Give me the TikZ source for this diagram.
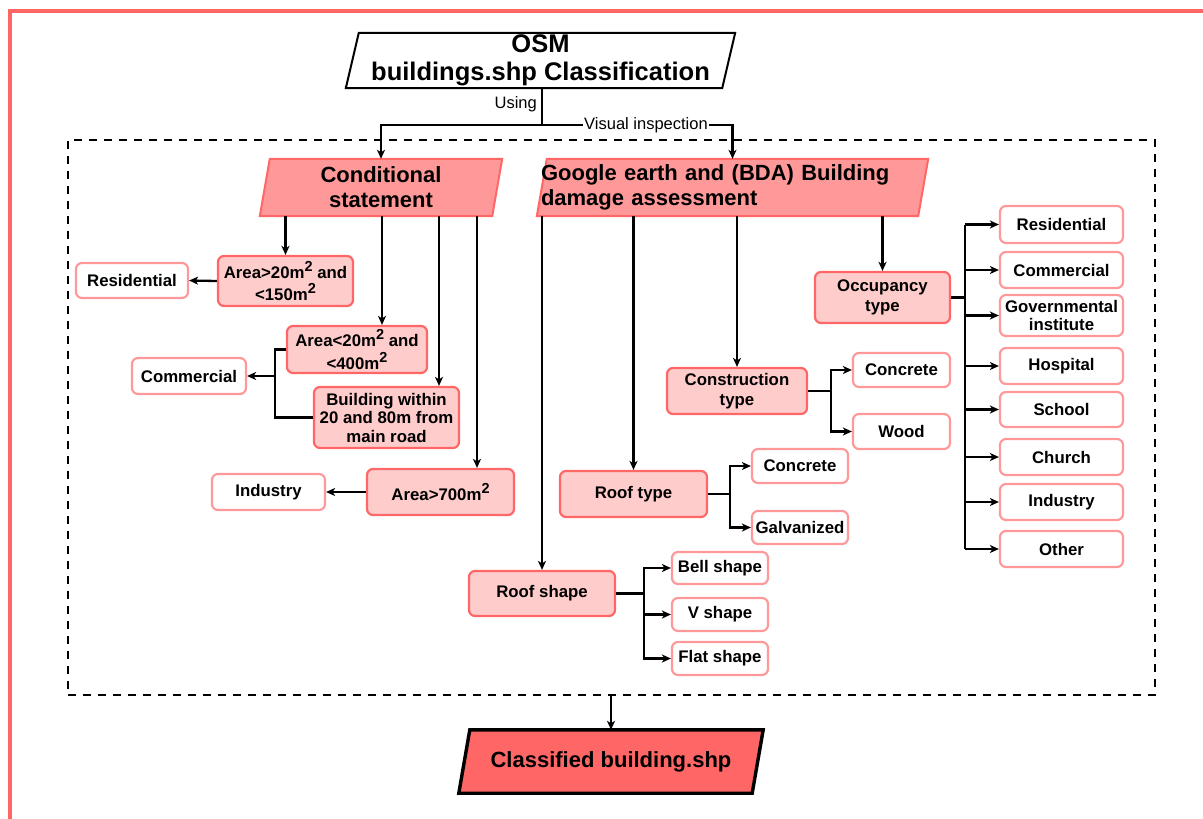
\documentclass[tikz,border=0pt]{standalone}
\usepackage{fontspec}
\setmainfont{Liberation Sans}
\usetikzlibrary{arrows.meta,backgrounds,calc}

\definecolor{edgered}{HTML}{FF6666}
\definecolor{parafill}{HTML}{FF9999}
\definecolor{boxfill}{HTML}{FFCCCC}
\definecolor{leafedge}{HTML}{FF9999}

% square-metre superscript
\newcommand\sqtwo{m\raisebox{0.42em}{\fontsize{14.5}{14.5}\selectfont 2}}
% slanted outline drawn behind a node: node, slant, style
\newcommand\paraoutline[3]{\path[#3] ([xshift=#2pt]#1.north west) -- (#1.north east) -- ([xshift=-#2pt]#1.south east) -- (#1.south west) -- cycle;}

\begin{document}
\begin{tikzpicture}[x=1pt,y=-1pt,
  every node/.style={font=\fontsize{16.8}{19.5}\selectfont\bfseries, inner sep=2pt},
  midbox/.style={draw=edgered, fill=boxfill, line width=2.2pt, rounded corners=6pt, align=center},
  leafbox/.style={draw=leafedge, fill=white, line width=2.2pt, rounded corners=6pt, align=center},
  paratext/.style={font=\fontsize{22}{25}\selectfont\bfseries, align=center, inner sep=0pt},
  arr/.style={line width=2.3pt, -{Stealth[length=9pt,width=8pt,inset=2.5pt]}},
  link/.style={line width=2.3pt},
  lbl/.style={font=\fontsize{16.5}{19}\selectfont, inner sep=1pt},
  groupbox/.style={draw=black, line width=2.8pt, dash pattern=on 8pt off 7pt}
]
\useasboundingbox (0,0) rectangle (1203,819);

% page frame
\draw[edgered, line width=4pt] (10,819) -- (10,11) -- (1203,11);

% dashed group
\node[groupbox, minimum width=1087pt, minimum height=555pt, inner sep=0pt] (grp) at (611.5,417.5) {};

% parallelogram headers
\node[paratext, font=\fontsize{25.5}{28}\selectfont\bfseries, minimum width=389pt, minimum height=55pt] (osm) at (540.5,60.5) {OSM\\buildings.shp Classification};
\node[paratext, minimum width=242pt, minimum height=57pt] (cs) at (381,187.5) {Conditional\\statement};
\node[paratext, align=left, text width=383pt, inner xsep=4pt, minimum height=57pt] (ge) at (732.5,187.5) {Google earth and (BDA) Building\\damage assessment};
\node[paratext, minimum width=304pt, minimum height=63pt] (out) at (611,761.5) {Classified building.shp};

\begin{scope}[on background layer]
  \paraoutline{osm}{13}{fill=white, draw=black, line width=2pt}
  \paraoutline{cs}{10}{fill=parafill, draw=edgered, line width=2pt}
  \paraoutline{ge}{10}{fill=parafill, draw=edgered, line width=2pt}
  \paraoutline{out}{11}{fill=edgered, draw=black, line width=3.4pt}
\end{scope}

% conditional statement branch
\node[midbox, minimum width=135pt, minimum height=50pt] (a1) at (285.5,281) {Area>20\sqtwo{} and\\[3pt]<150\sqtwo};
\node[leafbox, minimum width=112pt, minimum height=35pt] (res1) at (132,280.5) {Residential};
\node[midbox, minimum width=140pt, minimum height=47pt] (a2) at (357,349.5) {Area<20\sqtwo{} and\\[3pt]<400\sqtwo};
\node[midbox, minimum width=145pt, minimum height=61pt, font=\fontsize{16.8}{18.5}\selectfont\bfseries] (bw) at (386.5,417.5) {Building within\\20 and 80m from\\main road};
\node[leafbox, minimum width=114pt, minimum height=36pt] (com1) at (189,376) {Commercial};
\node[midbox, minimum width=147pt, minimum height=46pt] (a3) at (440.5,492) {Area>700\sqtwo};
\node[leafbox, minimum width=113pt, minimum height=36pt] (ind1) at (268.5,492) {Industry};

% google earth branch
\node[midbox, minimum width=135pt, minimum height=51pt] (occ) at (882.5,297.5) {Occupancy\\type};
\node[leafbox, minimum width=123pt, minimum height=37pt] (r2) at (1061.5,224.5) {Residential};
\node[leafbox, minimum width=123pt, minimum height=36pt] (c2) at (1061.5,270) {Commercial};
\node[leafbox, minimum width=123pt, minimum height=41pt, font=\fontsize{16.8}{17.5}\selectfont\bfseries] (g2) at (1061.5,315.5) {Governmental\\institute};
\node[leafbox, minimum width=123pt, minimum height=36pt] (h2) at (1061.5,366) {Hospital};
\node[leafbox, minimum width=123pt, minimum height=35pt] (s2) at (1061.5,409.5) {School};
\node[leafbox, minimum width=123pt, minimum height=36pt] (ch2) at (1061.5,457) {Church};
\node[leafbox, minimum width=123pt, minimum height=36pt] (i2) at (1061.5,502) {Industry};
\node[leafbox, minimum width=123pt, minimum height=36pt] (o2) at (1061.5,549) {Other};

\node[midbox, minimum width=140pt, minimum height=46pt] (ct) at (737,391) {Construction\\type};
\node[leafbox, minimum width=97pt, minimum height=34pt] (con1) at (901.5,370) {Concrete};
\node[leafbox, minimum width=97pt, minimum height=35pt] (wood) at (901.5,431.5) {Wood};

\node[midbox, minimum width=147pt, minimum height=46pt] (rt) at (633.5,494) {Roof type};
\node[leafbox, minimum width=96pt, minimum height=34pt] (con2) at (800,466) {Concrete};
\node[leafbox, minimum width=96pt, minimum height=33pt] (gal) at (800,527.5) {Galvanized};

\node[midbox, minimum width=146pt, minimum height=45pt] (rsh) at (542,593.5) {Roof shape};
\node[leafbox, minimum width=96pt, minimum height=32pt] (bell) at (720,568) {Bell shape};
\node[leafbox, minimum width=96pt, minimum height=33pt] (vsh) at (720,614.5) {V shape};
\node[leafbox, minimum width=96pt, minimum height=33pt] (flat) at (720,658.5) {Flat shape};

% top split
\coordinate (split) at (542,125);
\draw[link] (osm.south -| split) -- (split);
\node[lbl, anchor=east] (using) at (538,104) {Using};
\draw[arr] (split) -| (cs.north);
\draw[arr] (split) -| (ge.north);
\node[lbl, fill=white] (vis) at (646,125) {Visual inspection};

% conditional statement connectors
\path ([xshift=25pt]a2.north) coordinate (a2in);
\path ([xshift=52.5pt]bw.north) coordinate (bwin);
\path ([xshift=36.5pt]a3.north) coordinate (a3in);
\draw[arr] (cs.south -| a1.north) -- (a1.north);
\draw[arr] (cs.south -| a2in) -- (a2in);
\draw[arr] (cs.south -| bwin) -- (bwin);
\draw[arr] (cs.south -| a3in) -- (a3in);
\draw[arr] (a1.west) -- (res1.east);
\coordinate (cj) at ([xshift=-11pt]a2.west);
\draw[link] (a2.west) -- (cj) |- (bw.west);
\draw[arr] (cj |- com1.east) -- (com1.east);
\draw[arr] (a3.west) -- (ind1.east);

% google earth connectors
\draw[arr] (ge.south -| rsh.north) -- (rsh.north);
\draw[arr] (ge.south -| rt.north) -- (rt.north);
\draw[arr] (ge.south -| ct.north) -- (ct.north);
\draw[arr] (ge.south -| occ.north) -- (occ.north);

% occupancy tree
\coordinate (ot) at ([xshift=14pt]occ.east);
\draw[link] (occ.east) -- (ot);
\draw[link] (ot |- r2.west) -- (ot |- o2.west);
\foreach \n in {r2,c2,g2,h2,s2,ch2,i2,o2}
  \draw[arr] (ot |- \n.west) -- (\n.west);

% construction, roof type and roof shape forks
\draw[link] (ct.east) -- ++(23,0) coordinate (ctj);
\draw[arr] (ctj) |- (con1.west);
\draw[arr] (ctj) |- (wood.west);
\draw[link] (rt.east) -- ++(22,0) coordinate (rtj);
\draw[arr] (rtj) |- (con2.west);
\draw[arr] (rtj) |- (gal.west);
\draw[link] (rsh.east) -- ++(28,0) coordinate (rsj);
\draw[arr] (rsj) |- (bell.west);
\draw[arr] (rsj) |- (vsh.west);
\draw[arr] (rsj) |- (flat.west);

% output
\draw[arr, line width=1.7pt] (grp.south -| out.north) -- (out.north);
\end{tikzpicture}
\end{document}
